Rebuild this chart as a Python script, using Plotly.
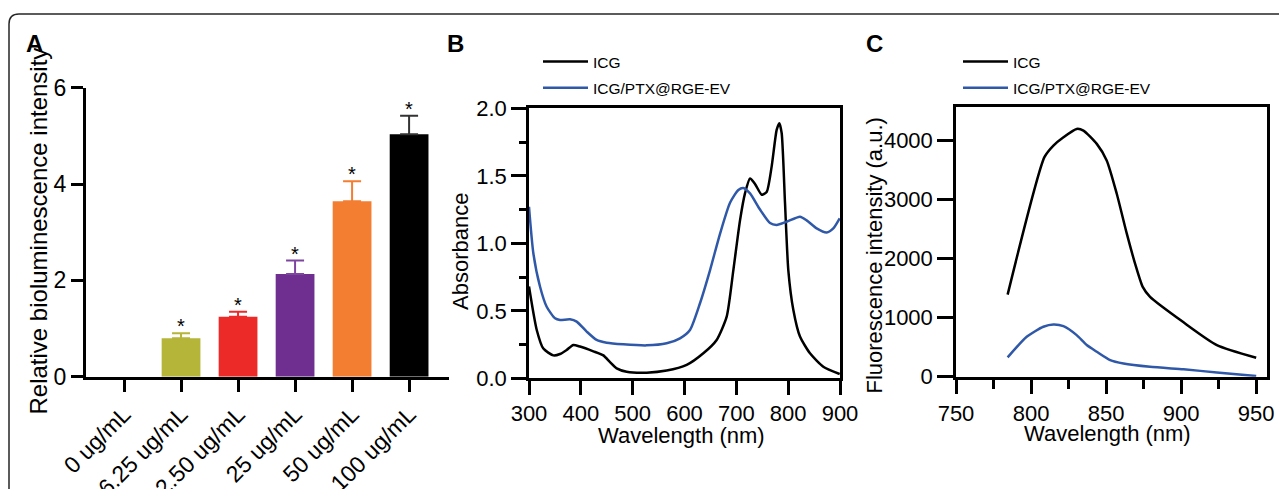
import plotly.graph_objects as go

W, H = 1279, 489
FONT = "Liberation Sans, Arial, sans-serif"

# ---------------- Panel A data ----------------
conc_labels = ["0 ug/mL", "6.25 ug/mL", "12.50 ug/mL", "25 ug/mL", "50 ug/mL", "100 ug/mL"]
biolum_mean = [0.0, 0.80, 1.245, 2.13, 3.645, 5.035]
biolum_err = [0.0, 0.10, 0.105, 0.28, 0.415, 0.385]
signif = ["", "*", "*", "*", "*", "*"]
bar_colors = ["#B5B53A", "#B5B53A", "#EC2B28", "#6E2F91", "#F37E32", "#000000"]
err_colors = ["#B5B53A", "#B5B53A", "#EC2B28", "#7E45A0", "#F37E32", "#333333"]

# ---------------- Panel B data (absorbance) ----------------
abs_icg_wl = [300, 314.8, 327.7, 346.9, 359.8, 372.7, 385.5, 398.4, 424.1, 443.4, 456.3, 469.1,
              488.4, 527, 565.6, 604.2, 636.3, 662, 681.4, 694.2, 707.1, 716.7, 726.4, 736,
              748.9, 758.5, 768.2, 777.8, 783, 787.5, 793.9, 800.3, 810, 822.8, 842.1, 867.8, 899.4]
abs_icg = [0.68, 0.36, 0.22, 0.17, 0.18, 0.21, 0.247, 0.235, 0.20, 0.17, 0.12, 0.074,
           0.049, 0.042, 0.057, 0.099, 0.185, 0.284, 0.457, 0.80, 1.17, 1.37, 1.48, 1.44,
           1.36, 1.38, 1.57, 1.84, 1.89, 1.815, 1.30, 0.80, 0.506, 0.309, 0.185, 0.086, 0.032]
abs_ev_wl = [300, 308.4, 321.2, 334.1, 350.2, 359.8, 379.1, 392, 411.3, 430.5, 449.8, 482,
             527, 565.6, 591.3, 610.6, 629.9, 649.2, 668.5, 687.8, 703.9, 713.5, 726.4, 745.7,
             765, 777.8, 797.1, 822.8, 835.7, 855, 874.3, 887.1, 899.4]
abs_ev = [1.27, 0.926, 0.68, 0.53, 0.444, 0.432, 0.437, 0.42, 0.346, 0.284, 0.264, 0.252,
          0.244, 0.259, 0.296, 0.358, 0.556, 0.80, 1.07, 1.30, 1.395, 1.41, 1.37, 1.25,
          1.15, 1.136, 1.16, 1.197, 1.17, 1.11, 1.08, 1.11, 1.185]

# ---------------- Panel C data (fluorescence) ----------------
fl_icg_wl = [784.4, 808.9, 814.9, 821.6, 830.4, 834.9, 843.8, 850.4, 857.1, 863.8, 869.3,
             874.4, 879.3, 901.6, 923.8, 950]
fl_icg = [1390, 3716, 3913, 4054, 4194, 4166, 3941, 3660, 3097, 2421, 1914,
          1520, 1351, 920, 535, 321]
fl_ev_wl = [784.4, 797.1, 808.2, 814.9, 821.6, 830.4, 837.1, 843.8, 852.7, 861.6, 879.3,
            901.6, 923.8, 950]
fl_ev = [327, 676, 845, 884, 856, 704, 535, 422, 282, 225, 169, 124, 73, 11]

BLACK = "#000000"
BLUE = "#2F59A8"


def px_x(p):
    return p / W


def px_y(p):
    return 1 - p / H


fig = go.Figure()

# Panel A bars
for i, lab in enumerate(conc_labels):
    fig.add_trace(go.Bar(
        x=[lab], y=[biolum_mean[i]], width=0.68,
        marker=dict(color=bar_colors[i], line=dict(width=0)),
        error_y=dict(type="data", symmetric=False, array=[biolum_err[i]], arrayminus=[0],
                     color=err_colors[i], thickness=2, width=9,
                     visible=biolum_err[i] > 0),
        showlegend=False, xaxis="x", yaxis="y"))

for i, lab in enumerate(conc_labels):
    if signif[i]:
        fig.add_annotation(x=lab, y=biolum_mean[i] + biolum_err[i], xref="x", yref="y",
                           text=signif[i], showarrow=False, xanchor="center",
                           yanchor="bottom", yshift=-6,
                           font=dict(family=FONT, size=20, color="black"))

# Panel B lines
fig.add_trace(go.Scatter(x=abs_icg_wl, y=abs_icg, mode="lines", name="ICG",
                         line=dict(color=BLACK, width=2.5, shape="spline", smoothing=0.6),
                         xaxis="x2", yaxis="y2", legend="legend", legendgroup="b1"))
fig.add_trace(go.Scatter(x=abs_ev_wl, y=abs_ev, mode="lines", name="ICG/PTX@RGE-EV",
                         line=dict(color=BLUE, width=2.5, shape="spline", smoothing=0.6),
                         xaxis="x2", yaxis="y2", legend="legend", legendgroup="b2"))

# Panel C lines
fig.add_trace(go.Scatter(x=fl_icg_wl, y=fl_icg, mode="lines", name="ICG",
                         line=dict(color=BLACK, width=2.5, shape="spline", smoothing=0.6),
                         xaxis="x3", yaxis="y3", legend="legend2", legendgroup="c1"))
fig.add_trace(go.Scatter(x=fl_ev_wl, y=fl_ev, mode="lines", name="ICG/PTX@RGE-EV",
                         line=dict(color=BLUE, width=2.5, shape="spline", smoothing=0.6),
                         xaxis="x3", yaxis="y3", legend="legend2", legendgroup="c2"))

tickfont_A = dict(family=FONT, size=23, color="black")
tickfont_BC = dict(family=FONT, size=22, color="black")

# axis A
xA = [px_x(86), px_x(449)]
yA = [px_y(376.7), px_y(87.7)]
# axis B
xB = [px_x(529), px_x(840)]
yB = [px_y(378.3), px_y(108.3)]
# axis C
xC = [px_x(956), px_x(1266.7)]
yC = [px_y(376.7), px_y(107.3)]

common_axis = dict(showgrid=False, zeroline=False, showline=True, linecolor="black",
                   ticks="outside", tickcolor="black", automargin=False)

legend_common = dict(xanchor="left", yanchor="top",
                     font=dict(family=FONT, size=15.5, color="black"),
                     bgcolor="rgba(0,0,0,0)", borderwidth=0, tracegroupgap=3,
                     traceorder="grouped", itemwidth=45)

fig.update_layout(
    width=W, height=H,
    margin=dict(l=0, r=0, t=0, b=0, pad=0, autoexpand=False),
    paper_bgcolor="white", plot_bgcolor="white",
    barmode="overlay",
    font=dict(family=FONT, color="black"),
    xaxis=dict(**common_axis, tickfont=tickfont_A, domain=xA, anchor="y", type="category",
               range=[-0.667, 5.7], linewidth=3, tickwidth=3, ticklen=12,
               tickangle=-45, categoryorder="array", categoryarray=conc_labels),
    yaxis=dict(**common_axis, tickfont=tickfont_A, domain=yA, anchor="x", range=[0, 6],
               tickvals=[0, 2, 4, 6], linewidth=3, tickwidth=3, ticklen=12),
    xaxis2=dict(**common_axis, tickfont=tickfont_BC, domain=xB, anchor="y2",
                range=[300, 900], dtick=100, tick0=300, linewidth=2.5, tickwidth=2.5,
                ticklen=14, mirror=True),
    yaxis2=dict(**common_axis, tickfont=tickfont_BC, domain=yB, anchor="x2", range=[0, 2],
                dtick=0.5, tickformat=".1f", linewidth=2.5, tickwidth=2.5, ticklen=15,
                mirror=True,
                minor=dict(dtick=0.25, ticks="outside", ticklen=7, tickwidth=2.5,
                           tickcolor="black")),
    xaxis3=dict(**common_axis, tickfont=tickfont_BC, domain=xC, anchor="y3",
                range=[750, 957], dtick=50, tick0=750, linewidth=2.5, tickwidth=2.5,
                ticklen=15, mirror=True,
                minor=dict(dtick=25, tick0=750, ticks="outside", ticklen=10, tickwidth=2.5,
                           tickcolor="black")),
    yaxis3=dict(**common_axis, tickfont=tickfont_BC, domain=yC, anchor="x3",
                range=[0, 4560], dtick=1000, linewidth=2.5, tickwidth=2.5, ticklen=16,
                mirror=True),
    legend=dict(x=px_x(538), y=px_y(45), **legend_common),
    legend2=dict(x=px_x(958), y=px_y(45), **legend_common),
)

# Axis titles and panel letters
titles = [
    (38, 231.5, "Relative bioluminescence intensity", -90, 24),
    (460, 252, "Absorbance", -90, 22),
    (681, 435, "Wavelength (nm)", 0, 22),
    (874, 255.5, "Fluorescence intensity (a.u.)", -90, 22),
    (1107.5, 433, "Wavelength (nm)", 0, 22),
]
for tx, ty, txt, ang, fs in titles:
    fig.add_annotation(x=px_x(tx), y=px_y(ty), xref="paper", yref="paper",
                       text=txt, textangle=ang, showarrow=False,
                       xanchor="center", yanchor="middle",
                       font=dict(family=FONT, size=fs, color="black"))

letter_font = dict(family=FONT, size=24, color="black")
for letter, cx in [("A", 34.5), ("B", 455), ("C", 874.5)]:
    fig.add_annotation(x=px_x(cx), y=px_y(44), xref="paper", yref="paper",
                       text="<b>%s</b>" % letter, showarrow=False,
                       xanchor="center", yanchor="middle", font=letter_font)

# Outer frame with rounded top-left corner
r = 10
path = "M {a},{b} L {a},{c} Q {a},{d} {e},{d} L {f},{d}".format(
    a=px_x(9), b=px_y(495), c=px_y(14 + r), d=px_y(14), e=px_x(9 + r), f=px_x(1285))
fig.add_shape(type="path", path=path, xref="paper", yref="paper",
              line=dict(color="#262626", width=1.5))

fig.write_html("out.html", config={"displayModeBar": False},
               post_script="document.body.style.margin='0px';"
                           "document.body.style.overflow='hidden';")
